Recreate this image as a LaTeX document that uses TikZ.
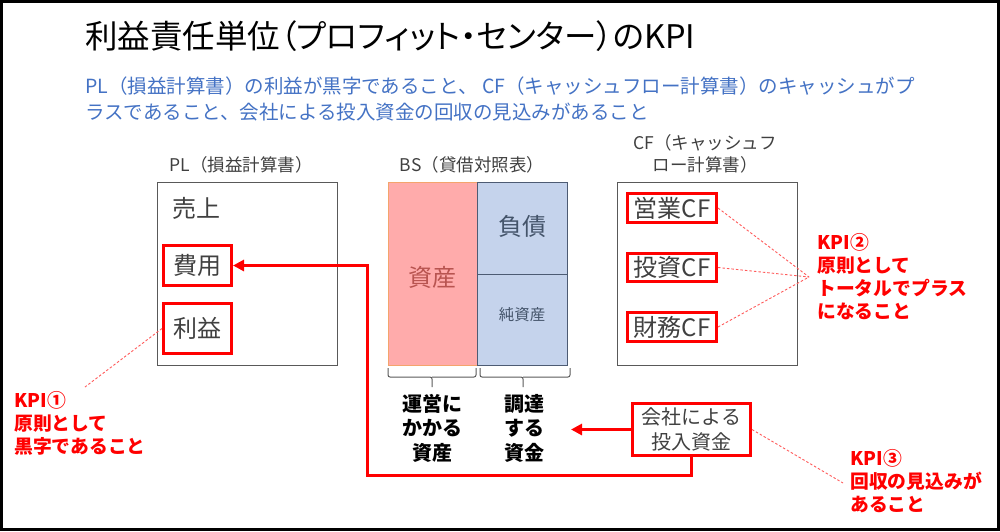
\documentclass[tikz,border=0pt]{standalone}
\usepackage{fontspec}
\setmainfont{Noto Sans CJK JP}
\usetikzlibrary{arrows.meta}
\definecolor{kblue}{HTML}{4472C4}
\definecolor{kred}{HTML}{FF0000}
\definecolor{dotred}{HTML}{FF5A5A}
\definecolor{kgray}{HTML}{404040}
\definecolor{boxgray}{HTML}{595959}
\definecolor{pinkfill}{HTML}{FFABAB}
\definecolor{pinkedge}{HTML}{F4A46C}
\definecolor{assettext}{HTML}{B85450}
\definecolor{bluefill}{HTML}{C5D3EC}
\definecolor{blueedge}{HTML}{4D5B73}
\definecolor{bluetext}{HTML}{44546A}
\tikzset{
  frame/.style={draw=boxgray, line width=1.3pt, inner sep=0pt, anchor=north west},
  redbox/.style={draw=kred, line width=3pt, inner sep=0pt, text=kgray, font=\fontsize{24}{28}\selectfont},
  item/.style={text=kgray, font=\fontsize{24}{28}\selectfont, inner sep=0pt},
  lbl/.style={text=kgray, font=\fontsize{17.5}{22}\selectfont, inner sep=0pt, align=center},
  kpi/.style={text=kred, font=\bfseries\fontsize{18.8}{23}\selectfont, inner sep=0pt, align=left, anchor=north west},
  bsnote/.style={text=black, font=\bfseries\fontsize{20}{24.5}\selectfont, inner sep=0pt, align=center},
  redline/.style={draw=kred, line width=3pt},
  redtip/.style={-{Triangle[length=11pt,width=11pt]}},
  dotline/.style={draw=dotred, line width=0.9pt, dash pattern=on 2.5pt off 2pt},
  brace/.style={draw=boxgray, line width=1pt, rounded corners=2pt},
  bluetxt/.style={text=kblue, font=\fontsize{19.5}{24}\selectfont, inner sep=0pt, anchor=west}
}
\begin{document}
\begin{tikzpicture}[x=1pt,y=-1pt]
\useasboundingbox (0,0) rectangle (1000,531);
\draw[line width=3pt] (1.5,1.5) rectangle (998.5,529.5);

% title and subtitle
\node[anchor=west, inner sep=0pt, font=\fontsize{32.5}{38}\selectfont\addfontfeatures{RawFeature=+palt}] (title) at (85,36) {利益責任単位（プロフィット・センター）のKPI};
\node[bluetxt] (sub1) at (85,86) {PL（損益計算書）の利益が黒字であること、 CF（キャッシュフロー計算書）のキャッシュがプ};
\node[bluetxt] (sub2) at (85,112) {ラスであること、会社による投入資金の回収の見込みがあること};

% PL
\node[lbl] (pllbl) at (241,165) {PL（損益計算書）};
\node[frame, minimum width=180pt, minimum height=183pt] (pl) at (157,182) {};
\node[item] (uriage) at (196,208) {売上};
\node[redbox, minimum width=68pt, minimum height=40pt] (hiyou) at (197.5,265.5) {費用};
\node[redbox, minimum width=68pt, minimum height=50pt] (rieki) at (197.5,328.5) {利益};

% BS
\node[lbl] (bslbl) at (472,165) {BS（貸借対照表）};
\node[draw=pinkedge, fill=pinkfill, line width=1pt, inner sep=0pt, anchor=north west,
      minimum width=89.5pt, minimum height=183pt] (asset) at (387.5,182) {};
\node[text=assettext, font=\fontsize{24}{28}\selectfont, inner sep=0pt] (assettxt) at (432,277) {資産};
\node[draw=blueedge, fill=bluefill, line width=1pt, inner sep=0pt, anchor=north west,
      minimum width=90pt, minimum height=92pt] (debt) at (477,182) {};
\node[text=bluetext, font=\fontsize{24}{28}\selectfont, inner sep=0pt] (debttxt) at (522,226) {負債};
\node[draw=blueedge, fill=bluefill, line width=1pt, inner sep=0pt, anchor=north west,
      minimum width=90pt, minimum height=91pt] (equity) at (477,274) {};
\node[text=bluetext, font=\fontsize{15.5}{18}\selectfont, inner sep=0pt] (equitytxt) at (522,315) {純資産};
\draw[brace] (388,368) |- (432,377) -- (432,387);
\draw[brace] (432,377) -| (476,368);
\draw[brace] (480,368) |- (523,377) -- (523,387);
\draw[brace] (523,377) -| (570,368);
\node[bsnote] (opasset) at (432,428) {運営に\\かかる\\資産};
\node[bsnote] (funds) at (524,428) {調達\\する\\資金};

% CF
\node[lbl, font=\fontsize{17.5}{22}\selectfont] (cflbl) at (705,154) {CF（キャッシュフ\\ロー計算書）};
\node[frame, minimum width=180pt, minimum height=183pt] (cf) at (617,182) {};
\node[redbox, minimum width=89pt, minimum height=29pt] (opcf) at (672,208) {営業CF};
\node[redbox, minimum width=89pt, minimum height=28pt] (invcf) at (672,267.5) {投資CF};
\node[redbox, minimum width=89pt, minimum height=29pt] (fincf) at (672,327) {財務CF};

% company investment
\node[redbox, minimum width=118pt, minimum height=52pt, align=center, font=\fontsize{20}{25}\selectfont] (kaisha) at (691.5,429.5) {会社による\\投入資金};

% red connectors
\coordinate (bend) at (367,475);
\coordinate (fundtip) at (571,429.5);
\draw[redline, redtip] (kaisha.south) |- (bend) |- (hiyou.east);
\draw[redline, redtip] (kaisha.west) -- (fundtip);

% KPI notes
\node[kpi] (kpi1) at (14,391) {KPI①\\原則として\\黒字であること};
\node[kpi] (kpi2) at (817,233) {KPI②\\原則として\\トータルでプラス\\になること};
\node[kpi] (kpi3) at (850,449) {KPI③\\回収の見込みが\\あること};
\coordinate (k1) at (85,387);
\coordinate (k2) at (809,277);
\coordinate (k3) at (843,483);
\draw[dotline] (rieki.west) -- (k1);
\draw[dotline] (opcf.east) -- (k2);
\draw[dotline] (invcf.east) -- (k2);
\draw[dotline] (fincf.east) -- (k2);
\draw[dotline] (kaisha.east) -- (k3);
\end{tikzpicture}
\end{document}
